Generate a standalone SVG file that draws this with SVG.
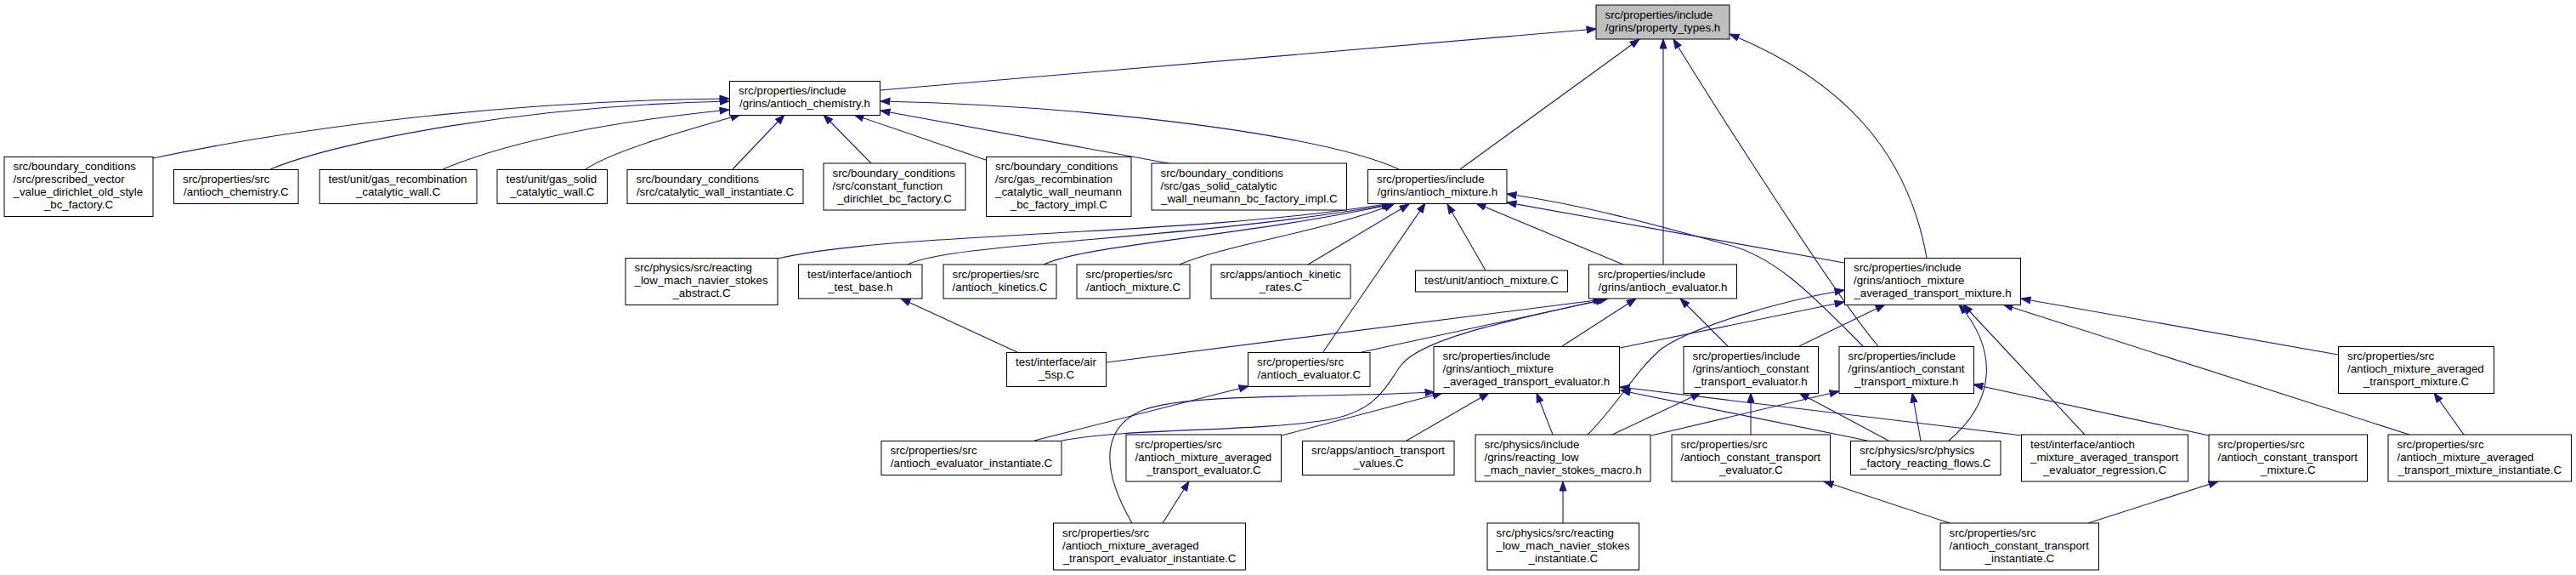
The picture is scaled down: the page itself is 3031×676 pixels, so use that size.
<svg xmlns="http://www.w3.org/2000/svg" width="3031" height="676" viewBox="0 0 3031 676">
<style>
.node rect{fill:#ffffff;stroke:#000000;stroke-width:1}
#PT rect{fill:#bfbfbf}
text{font-family:"Liberation Sans",Arial,Helvetica,sans-serif;font-size:13.33px;fill:#000000}
.c{text-anchor:middle}
.edges path{fill:none;stroke:#191970;stroke-width:1.1;marker-end:url(#arr)}
</style>
<defs>
<marker id="arr" markerUnits="userSpaceOnUse" markerWidth="13" markerHeight="10" refX="11.5" refY="4.5" orient="auto">
<path d="M0.5,0.5 L11.5,4.5 L0.5,8.5 z" fill="#191970" stroke="#191970" stroke-width="1"/>
</marker>
</defs>
<rect width="3031" height="676" fill="#ffffff"/>
<g class="edges">
<path d="M1036,106 L1878,34"/>
<path d="M1718,199 L1929,46"/>
<path d="M1957,311 L1957,46"/>
<path d="M2210,407 C2166,357 2018,126 1969,46"/>
<path d="M2267,303 C2245,180 2170,95 2035,40"/>
<path d="M180,186 C350,150 600,118 858,116"/>
<path d="M318,199 C400,165 620,124 858,119"/>
<path d="M521,199 C590,170 700,145 858,129"/>
<path d="M689,199 C720,178 800,155 871,135"/>
<path d="M862,199 L923,135"/>
<path d="M1025,192 L969,135"/>
<path d="M1160,188 L1005,135"/>
<path d="M1375,192 L1036,130"/>
<path d="M1646,199 C1560,160 1300,125 1036,119"/>
<path d="M915,304 C1050,272 1400,278 1637,239"/>
<path d="M1068,311 C1120,285 1400,282 1638,240"/>
<path d="M1228,311 C1280,287 1450,280 1639,240"/>
<path d="M1388,311 C1440,288 1560,272 1640,240"/>
<path d="M1539,311 L1658,240"/>
<path d="M1556,415 L1677,239"/>
<path d="M1748,318 L1703,240"/>
<path d="M1910,311 L1737,239"/>
<path d="M2192,407 C2140,355 2090,300 2030,287 C1950,265 1860,240 1773,228"/>
<path d="M2170,309 L1773,238"/>
<path d="M1302,426 L1886,352"/>
<path d="M1602,414 L1889,352"/>
<path d="M1249,518 C1330,503 1470,508 1560,494 C1620,484 1630,455 1648,430 C1670,400 1760,380 1892,351"/>
<path d="M1838,407 L1925,351"/>
<path d="M2033,407 L1977,351"/>
<path d="M1199,415 L1060,351"/>
<path d="M1217,518 L1469,454"/>
<path d="M1332,615 C1300,560 1290,505 1345,482 C1400,462 1550,468 1688,461"/>
<path d="M1508,512 L1697,462"/>
<path d="M1655,518 L1752,462"/>
<path d="M1827,511 L1808,462"/>
<path d="M2379,512 L1906,455"/>
<path d="M2197,518 L1907,459"/>
<path d="M1906,409 L2170,355"/>
<path d="M1868,511 C1900,480 1925,435 1955,410 C1990,385 2090,355 2170,341"/>
<path d="M2117,407 L2218,358"/>
<path d="M2293,518 C2350,470 2350,410 2305,358"/>
<path d="M2453,511 L2310,358"/>
<path d="M2751,417 L2378,351"/>
<path d="M2835,511 L2357,358"/>
<path d="M1943,512 L2164,460"/>
<path d="M2260,518 L2250,462"/>
<path d="M2599,512 L2322,452"/>
<path d="M1897,511 L2001,462"/>
<path d="M2060,511 L2060,462"/>
<path d="M2222,518 L2117,462"/>
<path d="M1839,615 L1839,566"/>
<path d="M2294,615 L2146,566"/>
<path d="M2457,615 L2610,566"/>
<path d="M2899,511 L2864,462"/>
<path d="M1368,615 L1399,566"/>
</g>
<g id="PT" class="node"><rect x="1878" y="6" width="157" height="40"/><text x="1888.5" y="21.5">src/properties/include</text><text class="c" x="1956.5" y="36.5">/grins/property_types.h</text></g>
<g id="CH" class="node"><rect x="858.5" y="95.5" width="177" height="40"/><text x="869" y="111">src/properties/include</text><text class="c" x="947" y="126">/grins/antioch_chemistry.h</text></g>
<g id="MX" class="node"><rect x="1609.5" y="199.5" width="163.5" height="40"/><text x="1620" y="215">src/properties/include</text><text class="c" x="1691.3" y="230">/grins/antioch_mixture.h</text></g>
<g id="prescribed" class="node"><rect x="5" y="184.5" width="175" height="70"/><text x="15.5" y="200">src/boundary_conditions</text><text x="15.5" y="215">/src/prescribed_vector</text><text x="15.5" y="230">_value_dirichlet_old_style</text><text class="c" x="92.5" y="245">_bc_factory.C</text></g>
<g id="chemC" class="node"><rect x="204.5" y="199.5" width="146.5" height="40"/><text x="215" y="215">src/properties/src</text><text class="c" x="277.8" y="230">/antioch_chemistry.C</text></g>
<g id="gasRecCat" class="node"><rect x="376" y="199.5" width="185" height="40"/><text x="386.5" y="215">test/unit/gas_recombination</text><text class="c" x="468.5" y="230">_catalytic_wall.C</text></g>
<g id="gasSolidCat" class="node"><rect x="585" y="199.5" width="129.5" height="40"/><text x="595.5" y="215">test/unit/gas_solid</text><text class="c" x="649.8" y="230">_catalytic_wall.C</text></g>
<g id="catWallInst" class="node"><rect x="738" y="199.5" width="207" height="40"/><text x="748.5" y="215">src/boundary_conditions</text><text class="c" x="841.5" y="230">/src/catalytic_wall_instantiate.C</text></g>
<g id="constFunc" class="node"><rect x="969" y="192" width="167" height="55"/><text x="979.5" y="207.5">src/boundary_conditions</text><text x="979.5" y="222.5">/src/constant_function</text><text class="c" x="1052.5" y="237.5">_dirichlet_bc_factory.C</text></g>
<g id="gasRecNeu" class="node"><rect x="1160.5" y="184.5" width="170.5" height="70"/><text x="1171" y="200">src/boundary_conditions</text><text x="1171" y="215">/src/gas_recombination</text><text x="1171" y="230">_catalytic_wall_neumann</text><text class="c" x="1245.8" y="245">_bc_factory_impl.C</text></g>
<g id="gasSolidNeu" class="node"><rect x="1355" y="192" width="229.5" height="55"/><text x="1365.5" y="207.5">src/boundary_conditions</text><text x="1365.5" y="222.5">/src/gas_solid_catalytic</text><text class="c" x="1469.8" y="237.5">_wall_neumann_bc_factory_impl.C</text></g>
<g id="reactAbs" class="node"><rect x="736" y="303.5" width="179" height="55"/><text x="746.5" y="319">src/physics/src/reacting</text><text x="746.5" y="334">_low_mach_navier_stokes</text><text class="c" x="825.5" y="349">_abstract.C</text></g>
<g id="testBase" class="node"><rect x="939.5" y="311" width="145.5" height="40"/><text x="950" y="326.5">test/interface/antioch</text><text class="c" x="1012.3" y="341.5">_test_base.h</text></g>
<g id="kinetics" class="node"><rect x="1110" y="311" width="133" height="40"/><text x="1120.5" y="326.5">src/properties/src</text><text class="c" x="1176.5" y="341.5">/antioch_kinetics.C</text></g>
<g id="mixC" class="node"><rect x="1267" y="311" width="133" height="40"/><text x="1277.5" y="326.5">src/properties/src</text><text class="c" x="1333.5" y="341.5">/antioch_mixture.C</text></g>
<g id="kinRates" class="node"><rect x="1425" y="311" width="164" height="40"/><text x="1435.5" y="326.5">src/apps/antioch_kinetic</text><text class="c" x="1507" y="341.5">_rates.C</text></g>
<g id="unitMix" class="node"><rect x="1665.5" y="318" width="179" height="25"/><text class="c" x="1755" y="333.5">test/unit/antioch_mixture.C</text></g>
<g id="EV" class="node"><rect x="1869.5" y="311" width="174" height="40"/><text x="1880" y="326.5">src/properties/include</text><text class="c" x="1956.5" y="341.5">/grins/antioch_evaluator.h</text></g>
<g id="AMM" class="node"><rect x="2170.5" y="303.5" width="207" height="55"/><text x="2181" y="319">src/properties/include</text><text x="2181" y="334">/grins/antioch_mixture</text><text class="c" x="2274" y="349">_averaged_transport_mixture.h</text></g>
<g id="air5sp" class="node"><rect x="1184.5" y="414.5" width="117" height="40"/><text x="1195" y="430">test/interface/air</text><text class="c" x="1243" y="445">_5sp.C</text></g>
<g id="evalC" class="node"><rect x="1468.5" y="414.5" width="143.5" height="40"/><text x="1479" y="430">src/properties/src</text><text class="c" x="1540.3" y="445">/antioch_evaluator.C</text></g>
<g id="AME" class="node"><rect x="1687" y="407.5" width="218.5" height="55"/><text x="1697.5" y="423">src/properties/include</text><text x="1697.5" y="438">/grins/antioch_mixture</text><text class="c" x="1796.3" y="453">_averaged_transport_evaluator.h</text></g>
<g id="CTE" class="node"><rect x="1981" y="407.5" width="158.5" height="55"/><text x="1991.5" y="423">src/properties/include</text><text x="1991.5" y="438">/grins/antioch_constant</text><text class="c" x="2060.3" y="453">_transport_evaluator.h</text></g>
<g id="CTM" class="node"><rect x="2164" y="407.5" width="158.5" height="55"/><text x="2174.5" y="423">src/properties/include</text><text x="2174.5" y="438">/grins/antioch_constant</text><text class="c" x="2243.3" y="453">_transport_mixture.h</text></g>
<g id="AMMC" class="node"><rect x="2751.5" y="407.5" width="183" height="55"/><text x="2762" y="423">src/properties/src</text><text x="2762" y="438">/antioch_mixture_averaged</text><text class="c" x="2843" y="453">_transport_mixture.C</text></g>
<g id="evalInst" class="node"><rect x="1037" y="518.5" width="212" height="40"/><text x="1047.5" y="534">src/properties/src</text><text class="c" x="1143" y="549">/antioch_evaluator_instantiate.C</text></g>
<g id="AMEC" class="node"><rect x="1325" y="511" width="182.5" height="55"/><text x="1335.5" y="526.5">src/properties/src</text><text x="1335.5" y="541.5">/antioch_mixture_averaged</text><text class="c" x="1416.3" y="556.5">_transport_evaluator.C</text></g>
<g id="transpValues" class="node"><rect x="1532.5" y="518.5" width="178.5" height="40"/><text x="1543" y="534">src/apps/antioch_transport</text><text class="c" x="1621.8" y="549">_values.C</text></g>
<g id="macro" class="node"><rect x="1736" y="511" width="206" height="55"/><text x="1746.5" y="526.5">src/physics/include</text><text x="1746.5" y="541.5">/grins/reacting_low</text><text class="c" x="1839" y="556.5">_mach_navier_stokes_macro.h</text></g>
<g id="CTEC" class="node"><rect x="1967" y="511" width="186.5" height="55"/><text x="1977.5" y="526.5">src/properties/src</text><text x="1977.5" y="541.5">/antioch_constant_transport</text><text class="c" x="2060.3" y="556.5">_evaluator.C</text></g>
<g id="reactFlows" class="node"><rect x="2177.5" y="518.5" width="176.5" height="40"/><text x="2188" y="534">src/physics/src/physics</text><text class="c" x="2265.8" y="549">_factory_reacting_flows.C</text></g>
<g id="regression" class="node"><rect x="2378.5" y="511" width="196" height="55"/><text x="2389" y="526.5">test/interface/antioch</text><text x="2389" y="541.5">_mixture_averaged_transport</text><text class="c" x="2476.5" y="556.5">_evaluator_regression.C</text></g>
<g id="CTMC" class="node"><rect x="2599" y="511" width="186.5" height="55"/><text x="2609.5" y="526.5">src/properties/src</text><text x="2609.5" y="541.5">/antioch_constant_transport</text><text class="c" x="2692.3" y="556.5">_mixture.C</text></g>
<g id="AMMInst" class="node"><rect x="2810" y="511" width="215.5" height="55"/><text x="2820.5" y="526.5">src/properties/src</text><text x="2820.5" y="541.5">/antioch_mixture_averaged</text><text class="c" x="2917.8" y="556.5">_transport_mixture_instantiate.C</text></g>
<g id="AMEInst" class="node"><rect x="1239.5" y="615" width="226" height="55"/><text x="1250" y="630.5">src/properties/src</text><text x="1250" y="645.5">/antioch_mixture_averaged</text><text class="c" x="1352.5" y="660.5">_transport_evaluator_instantiate.C</text></g>
<g id="reactInst" class="node"><rect x="1750" y="615" width="178.5" height="55"/><text x="1760.5" y="630.5">src/physics/src/reacting</text><text x="1760.5" y="645.5">_low_mach_navier_stokes</text><text class="c" x="1839.3" y="660.5">_instantiate.C</text></g>
<g id="CTInst" class="node"><rect x="2283" y="615" width="186.5" height="55"/><text x="2293.5" y="630.5">src/properties/src</text><text x="2293.5" y="645.5">/antioch_constant_transport</text><text class="c" x="2376.3" y="660.5">_instantiate.C</text></g>
</svg>
